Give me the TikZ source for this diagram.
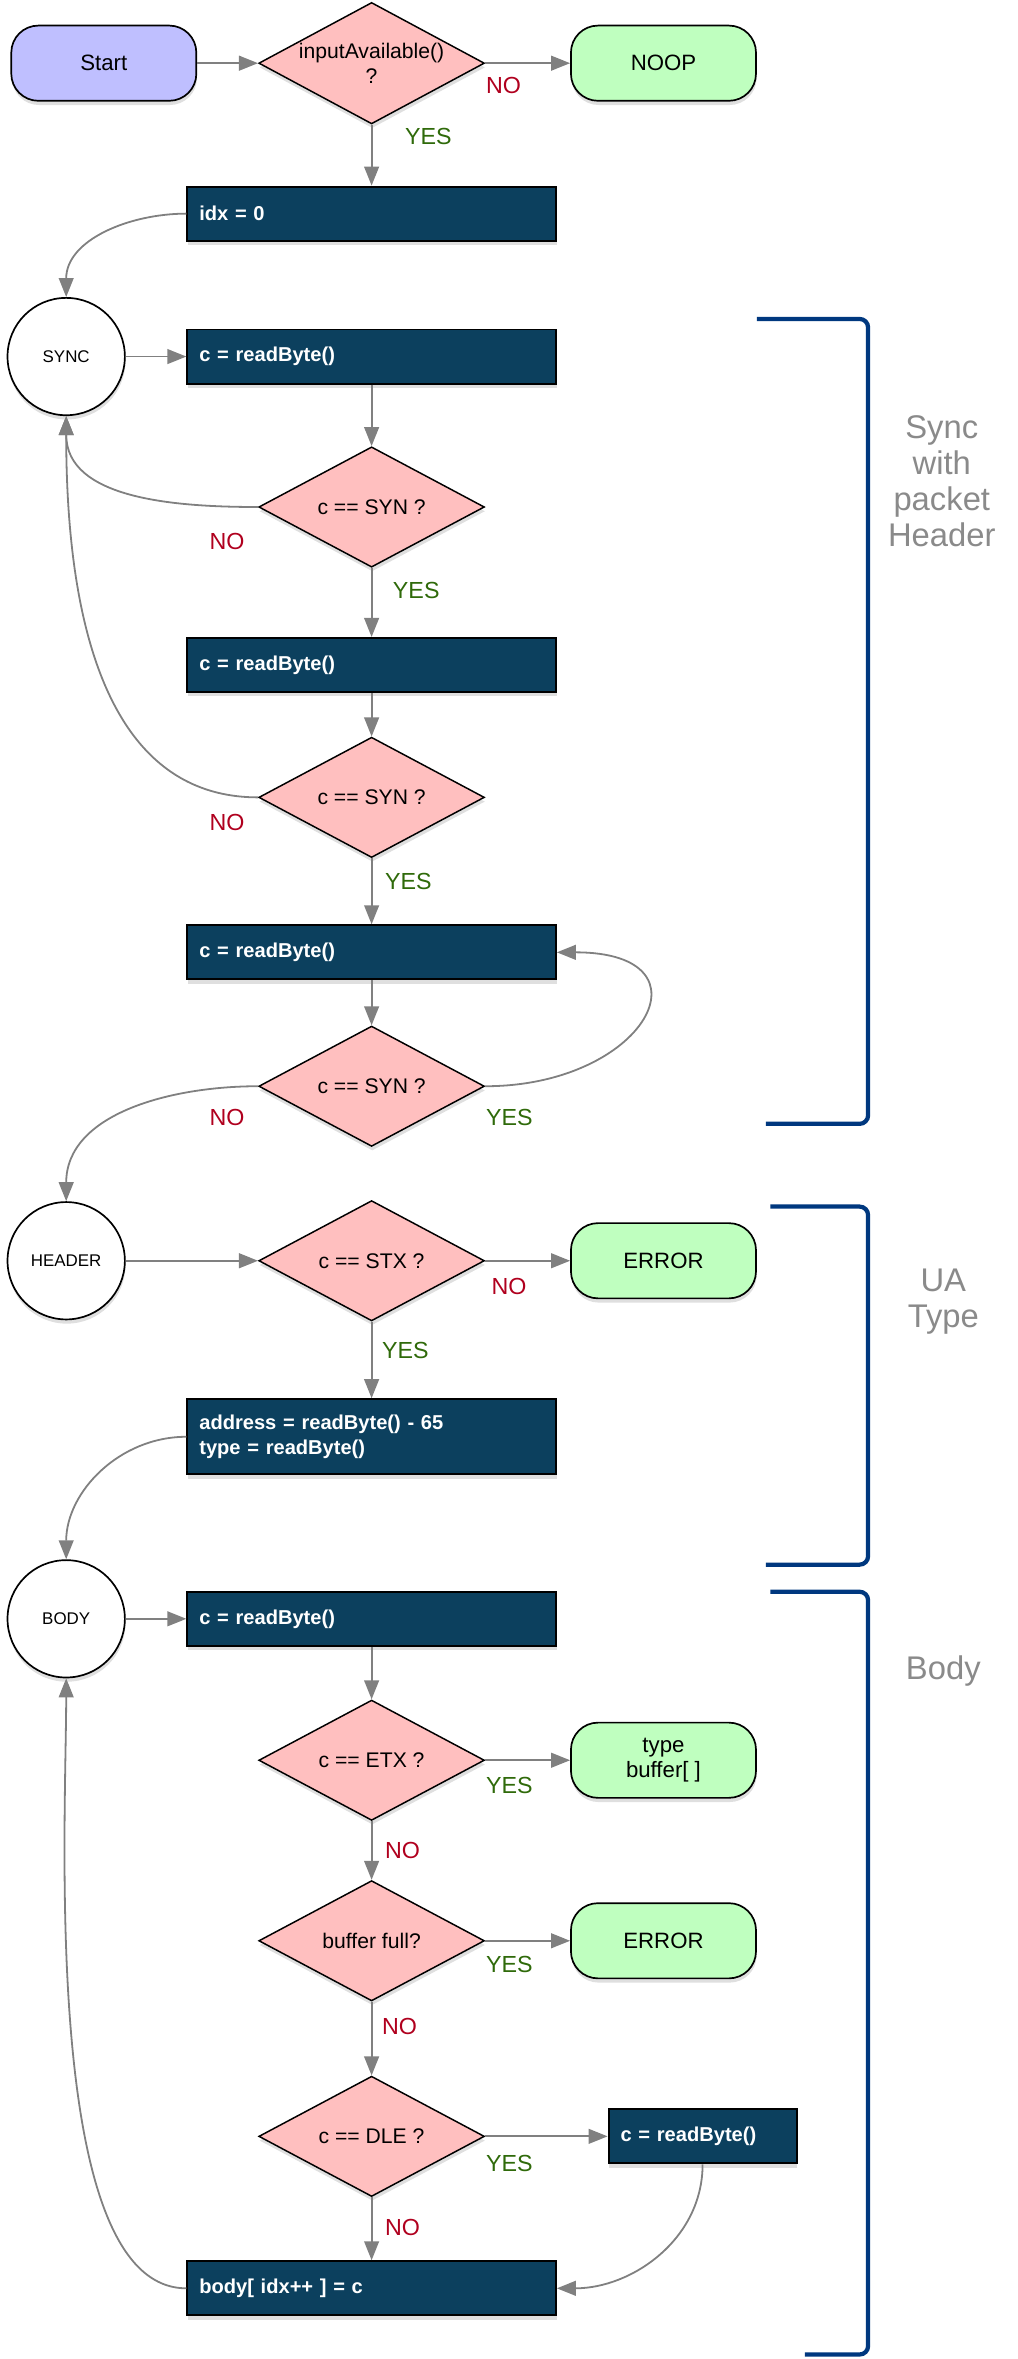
\documentclass[tikz,border=0pt]{standalone}
\usepackage{fontspec}
\setmainfont{Liberation Sans}
\usetikzlibrary{positioning,arrows.meta,shapes.geometric,shadows}

\definecolor{boxblue}{HTML}{0C405E}
\definecolor{decpink}{HTML}{FFBFBF}
\definecolor{startlilac}{HTML}{BFBFFF}
\definecolor{endgreen}{HTML}{BFFFBF}
\definecolor{flowgrey}{HTML}{808080}
\definecolor{nored}{HTML}{B0001E}
\definecolor{yesgreen}{HTML}{2F6A0A}
\definecolor{bracketblue}{HTML}{00387F}
\definecolor{notegrey}{HTML}{8A8A8A}

\tikzset{
  softshadow/.style={drop shadow={opacity=0.25, shadow xshift=0.3pt, shadow yshift=-2pt}},
  proc/.style={rectangle, draw=black, line width=0.9pt, fill=boxblue, text=white,
    font=\fontsize{9.5}{12}\selectfont\bfseries, minimum width=6.125cm, minimum height=0.9cm,
    text width=5.725cm, inner xsep=0.2cm, align=left, softshadow},
  dec/.style={diamond, draw=black, line width=0.7pt, fill=decpink, minimum width=3.75cm,
    minimum height=2cm, shape aspect=1.8, inner sep=0pt, align=center,
    font=\fontsize{10}{12}\selectfont, softshadow},
  endterm/.style={rectangle, rounded corners=0.45cm, draw=black, line width=0.8pt, fill=endgreen,
    minimum width=3.075cm, minimum height=1.25cm, align=center,
    font=\fontsize{10.5}{12}\selectfont, softshadow},
  startterm/.style={endterm, fill=startlilac},
  state/.style={circle, draw=black, line width=0.8pt, fill=white, minimum size=1.95cm,
    inner sep=0pt, font=\fontsize{8}{10}\selectfont, softshadow},
  flow/.style={draw=flowgrey, line width=0.85pt, ->},
  lblyes/.style={text=yesgreen, font=\fontsize{11}{13}\selectfont, inner sep=0pt},
  lblno/.style={text=nored, font=\fontsize{11}{13}\selectfont, inner sep=0pt},
  bracket/.style={draw=bracketblue, line width=2pt, rounded corners=4pt},
  note/.style={text=notegrey, font=\fontsize{15.5}{17}\selectfont, align=center}
}

\begin{document}
\begin{tikzpicture}[>={Triangle[length=9pt,width=7pt]}]
  \useasboundingbox (0,0) rectangle (16.9,-39.2);
  % entry
  \node[startterm] (start) at (1.725,-1.05) {Start};
  \node[dec] (avail) at (6.175,-1.05) {inputAvailable()\\?};
  \node[endterm] (noop) at (11.025,-1.05) {NOOP};
  \node[proc] (idx) at (6.175,-3.55) {idx = 0};
  % sync with packet header
  \node[state] (sync) at (1.1,-5.925) {SYNC};
  \node[proc] (rd1) at (6.175,-5.925) {c = readByte()};
  \node[dec] (syn1) at (6.175,-8.425) {c == SYN ?};
  \node[proc] (rd2) at (6.175,-11.05) {c = readByte()};
  \node[dec] (syn2) at (6.175,-13.25) {c == SYN ?};
  \node[proc] (rd3) at (6.175,-15.825) {c = readByte()};
  \node[dec] (syn3) at (6.175,-18.05) {c == SYN ?};
  % UA type
  \node[state] (header) at (1.1,-20.95) {HEADER};
  \node[dec] (stx) at (6.175,-20.95) {c == STX ?};
  \node[endterm] (err1) at (11.025,-20.95) {ERROR};
  \node[proc, minimum height=1.25cm] (addr) at (6.175,-23.875)
    {address = readByte() - 65\\type = readByte()};
  % body
  \node[state] (body) at (1.1,-26.9) {BODY};
  \node[proc] (rd4) at (6.175,-26.9) {c = readByte()};
  \node[dec] (etx) at (6.175,-29.25) {c == ETX ?};
  \node[endterm] (done) at (11.025,-29.25) {type\\buffer[ ]};
  \node[dec] (full) at (6.175,-32.25) {buffer full?};
  \node[endterm] (err2) at (11.025,-32.25) {ERROR};
  \node[dec] (dle) at (6.175,-35.5) {c == DLE ?};
  \node[proc, minimum width=3.125cm, text width=2.725cm] (rd5) at (11.675,-35.5) {c = readByte()};
  \node[proc] (store) at (6.175,-38.025) {body[ idx++ ] = c};

  % plain arrows
  \foreach \a/\b in {start/avail, sync/rd1, rd1/syn1, rd2/syn2, rd3/syn3, header/stx, body/rd4, rd4/etx}
    \draw[flow] (\a) -- (\b);

  % sideways exits
  \draw[flow] (avail) -- node[lblno, pos=0, anchor=west, yshift=-0.375cm] (no0) {NO} (noop);
  \draw[flow] (stx) -- node[lblno, pos=0, anchor=west, xshift=0.09cm, yshift=-0.425cm] (no5) {NO} (err1);
  \draw[flow] (etx) -- node[lblyes, pos=0, anchor=west, yshift=-0.425cm] (yes6) {YES} (done);
  \draw[flow] (full) -- node[lblyes, pos=0, anchor=west, yshift=-0.4cm] (yes7) {YES} (err2);
  \draw[flow] (dle) -- node[lblyes, pos=0, anchor=west, yshift=-0.45cm] (yes8) {YES} (rd5);

  % downward exits
  \draw[flow] (avail) -- node[lblyes, pos=0.2, anchor=west, xshift=0.54cm] (yes0) {YES} (idx);
  \draw[flow] (syn1) -- node[lblyes, pos=0.32, anchor=west, xshift=0.34cm] (yes1) {YES} (rd2);
  \draw[flow] (syn2) -- node[lblyes, pos=0.35, anchor=west, xshift=0.21cm] (yes2) {YES} (rd3);
  \draw[flow] (stx) -- node[lblyes, pos=0.37, anchor=west, xshift=0.16cm] (yes5) {YES} (addr);
  \draw[flow] (etx) -- node[lblno, pos=0.5, anchor=west, xshift=0.21cm] (no6) {NO} (full);
  \draw[flow] (full) -- node[lblno, pos=0.34, anchor=west, xshift=0.16cm] (no7) {NO} (dle);
  \draw[flow] (dle) -- node[lblno, pos=0.48, anchor=west, xshift=0.21cm] (no8) {NO} (store);

  % loops back to the states
  \draw[flow] (idx.west) to[out=180, in=90] (sync.north);
  \draw[flow] (syn1.west) to[out=180, in=-90]
    node[lblno, pos=0, anchor=east, xshift=-0.21cm, yshift=-0.575cm] (no1) {NO} (sync.south);
  \draw[flow] (syn2.west) to[out=180, in=-90]
    node[lblno, pos=0, anchor=east, xshift=-0.21cm, yshift=-0.425cm] (no2) {NO} (sync.south);
  \draw[flow] (syn3.east) to[out=0, in=0, looseness=2.7]
    node[lblyes, pos=0, anchor=west, yshift=-0.52cm] (yes3) {YES} (rd3.east);
  \draw[flow] (syn3.west) to[out=180, in=90]
    node[lblno, pos=0, anchor=east, xshift=-0.21cm, yshift=-0.525cm] (no3) {NO} (header.north);
  \draw[flow] (addr.west) to[out=180, in=90] (body.north);
  \draw[flow] (rd5.south) to[out=-90, in=0] (store.east);
  \draw[flow] (store.west) to[out=180, in=-90, looseness=0.6] (body.south);

  % section brackets
  \draw[bracket] (12.575,-5.3) -- (14.425,-5.3) -- (14.425,-18.675) -- (12.725,-18.675);
  \draw[bracket] (12.8,-20.05) -- (14.425,-20.05) -- (14.425,-26.0) -- (12.725,-26.0);
  \draw[bracket] (12.8,-26.45) -- (14.425,-26.45) -- (14.425,-39.125) -- (13.375,-39.125);
  \node[note] (syncnote) at (15.65,-7.99) {Sync\\with\\packet\\Header};
  \node[note] (uanote) at (15.675,-21.625) {UA\\Type};
  \node[note] (bodynote) at (15.675,-27.775) {Body};
\end{tikzpicture}
\end{document}
